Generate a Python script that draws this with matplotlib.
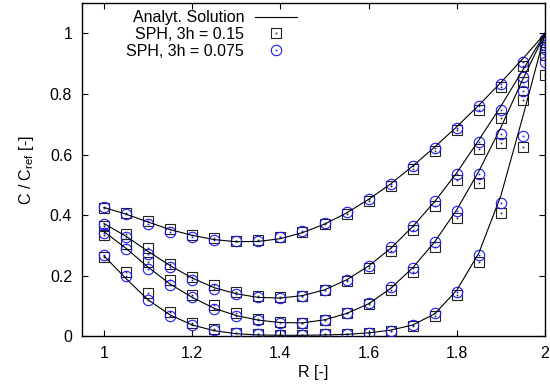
import numpy as np
import matplotlib
matplotlib.use("Agg")
import matplotlib.pyplot as plt
from matplotlib.ticker import FormatStrFormatter

plt.rcParams['font.family'] = ['Liberation Sans', 'DejaVu Sans']
plt.rcParams['mathtext.fontset'] = 'custom'
plt.rcParams['mathtext.rm'] = 'Liberation Sans'
plt.rcParams['mathtext.it'] = 'Liberation Sans:italic'

# radial positions of the SPH samples / analytic curve
r = [1.0, 1.05, 1.1, 1.15, 1.2, 1.25, 1.3, 1.35, 1.4, 1.45, 1.5,
     1.55, 1.6, 1.65, 1.7, 1.75, 1.8, 1.85, 1.9, 1.95, 2.0]

# analytic solution, four times
ana_1 = [.425, .403, .377, .352, .333, .319, .312, .313, .322, .342, .370,
         .407, .452, .503, .562, .625, .692, .763, .838, .917, 1.0]
ana_2 = [.372, .330, .280, .233, .192, .160, .140, .128, .126, .134, .153,
         .186, .232, .290, .362, .445, .540, .648, .760, .880, 1.0]
ana_3 = [.345, .290, .228, .172, .128, .092, .068, .053, .045, .044, .054,
         .075, .107, .158, .226, .312, .418, .545, .690, .850, 1.0]
ana_4 = [.265, .190, .120, .070, .037, .018, .008, .004, .003, .003, .004,
         .006, .011, .020, .037, .074, .152, .275, .465, .727, 1.0]

# SPH, 3h = 0.15
sph15_1 = [.422, .407, .381, .355, .334, .323, .315, .317, .326, .345, .370,
           .403, .445, .495, .552, .612, .680, .748, .822, .893, .970]
sph15_2 = [.365, .339, .290, .240, .196, .170, .146, .132, .128, .134, .152,
           .183, .225, .282, .350, .429, .517, .619, .722, .838, .955]
sph15_3 = [.333, .304, .245, .185, .135, .102, .075, .058, .046, .043, .054,
           .076, .105, .152, .212, .293, .390, .506, .637, .781, .930]
sph15_4 = [.260, .212, .141, .080, .044, .024, .011, .007, .005, .004, .006,
           .007, .011, .017, .034, .066, .135, .245, .408, .625, .864]

# SPH, 3h = 0.075
sph075_1 = [.425, .403, .372, .345, .328, .317, .313, .316, .328, .348, .374,
            .409, .452, .504, .562, .623, .689, .759, .832, .905, .980]
sph075_2 = [.372, .328, .273, .227, .187, .157, .138, .128, .126, .134, .154,
            .187, .232, .293, .363, .446, .537, .641, .746, .856, .963]
sph075_3 = [.341, .289, .222, .168, .128, .091, .066, .053, .044, .042, .055,
            .077, .108, .161, .226, .311, .414, .535, .667, .809, .947]
sph075_4 = [.267, .198, .119, .068, .036, .020, .009, .006, .004, .003, .006,
            .006, .009, .018, .036, .075, .146, .267, .441, .660, .905]

ana = [ana_1, ana_2, ana_3, ana_4]
sph15 = [sph15_1, sph15_2, sph15_3, sph15_4]
sph075 = [sph075_1, sph075_2, sph075_3, sph075_4]

fs = 11.5

fig = plt.figure(figsize=(5.5, 3.9), dpi=100)
ax = fig.add_axes([0.149, 0.138, 0.842, 0.854])

for i in range(4):
    l_ana, = ax.plot(r, ana[i], color='black', lw=0.8, zorder=4)
    l_sq, = ax.plot(r, sph15[i], ls='none', marker='s', ms=7, mfc='none',
                    mec='#222222', mew=0.8, zorder=2)
    d_sq, = ax.plot(r, sph15[i], ls='none', marker='s', ms=1.2, mfc='#222222',
                    mec='none', zorder=2)
    l_ci, = ax.plot(r, sph075[i], ls='none', marker='o', ms=7.5, mfc='none',
                    mec='#1a1aff', mew=0.8, zorder=3)
    d_ci, = ax.plot(r, sph075[i], ls='none', marker='s', ms=1.2, mfc='#1a1aff',
                    mec='none', zorder=3)

ax.set_xlim(0.95, 2.0)
ax.set_ylim(0, 1.1)
ax.set_xticks([1, 1.2, 1.4, 1.6, 1.8, 2])
ax.set_yticks([0, 0.2, 0.4, 0.6, 0.8, 1])
ax.xaxis.set_major_formatter(FormatStrFormatter('%g'))
ax.yaxis.set_major_formatter(FormatStrFormatter('%g'))
ax.tick_params(direction='in', length=4, width=0.8, top=True, right=True,
               labelsize=fs, pad=7, colors='black')
for s in ax.spines.values():
    s.set_linewidth(1.0)

ax.set_xlabel('R [-]', fontsize=fs, labelpad=3)
ax.set_ylabel(r'C / C$_{\mathrm{ref}}$ [-]', fontsize=fs, labelpad=10)

# gnuplot-like key: right aligned labels, sample on the right
leg = ax.legend([l_ana, (l_sq, d_sq), (l_ci, d_ci)],
                ['Analyt. Solution', 'SPH, 3h = 0.15', 'SPH, 3h = 0.075'],
                loc='upper right', bbox_to_anchor=(0.464, 0.978),
                frameon=False, markerfirst=False, fontsize=fs,
                handlelength=2.6, handletextpad=0.7, labelspacing=0.1,
                borderpad=0, borderaxespad=0)

fig.savefig('out.png', dpi=100)
